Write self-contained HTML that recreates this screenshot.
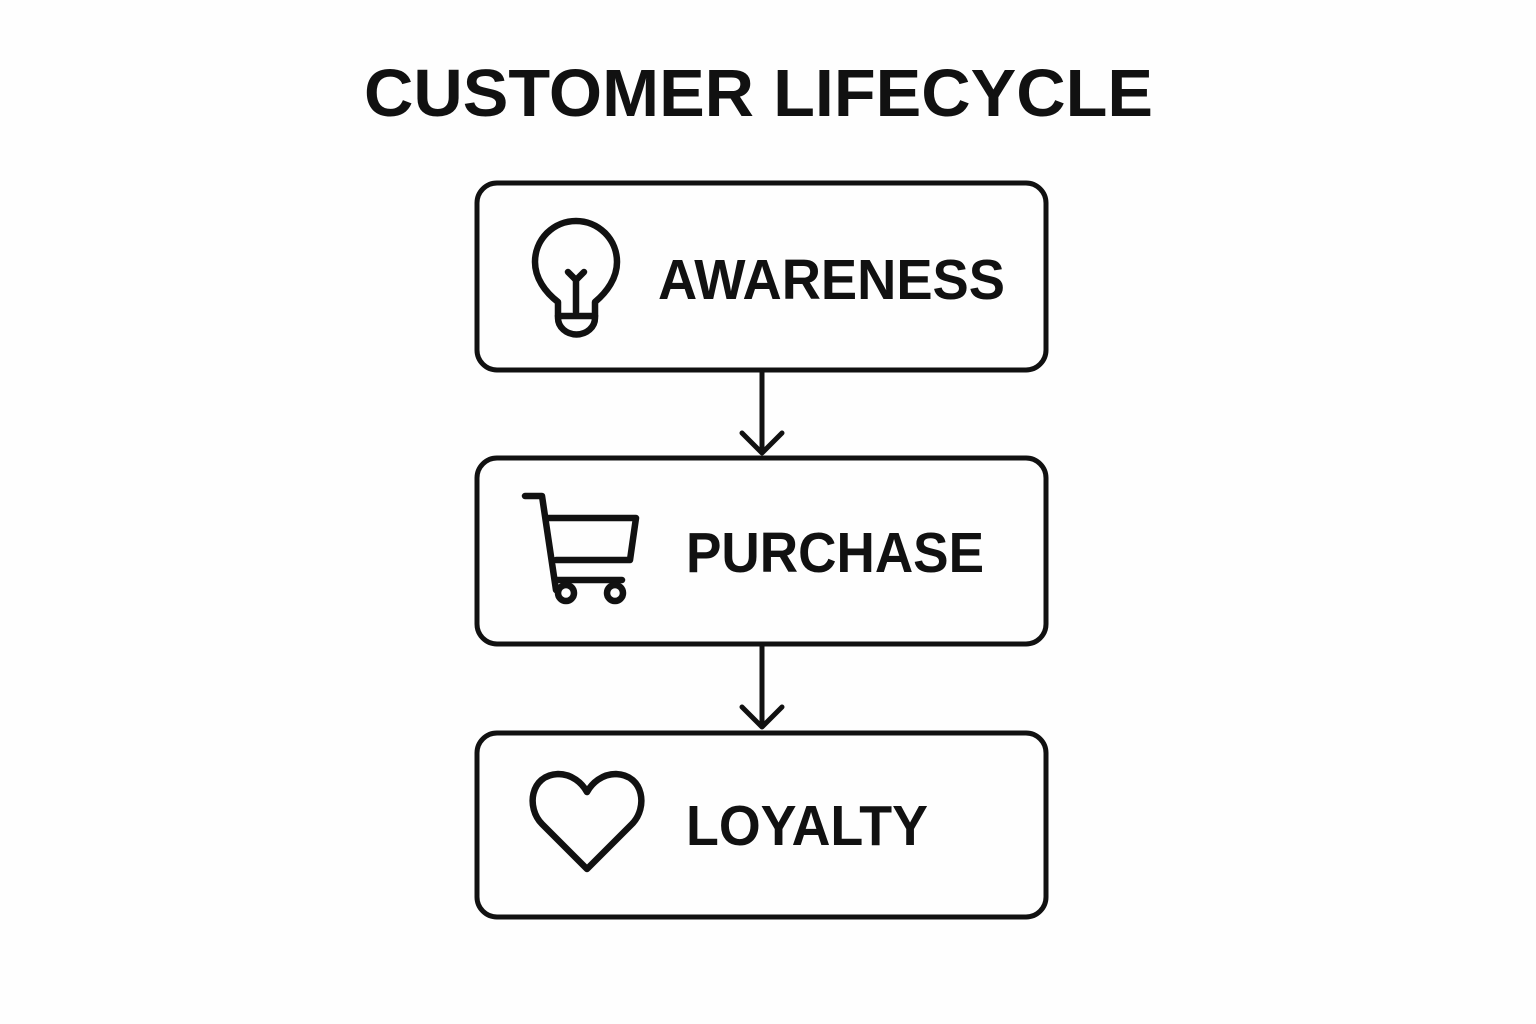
<!DOCTYPE html>
<html><head><style>html,body{margin:0;padding:0;background:#fefefe;}svg{display:block}</style></head>
<body>
<svg width="1536" height="1024" viewBox="0 0 1536 1024" xmlns="http://www.w3.org/2000/svg">
<rect width="1536" height="1024" fill="#fefefe"/>
<g font-family="Liberation Sans, sans-serif" font-weight="bold" fill="#111">
<text x="364" y="116" font-size="67" textLength="789" lengthAdjust="spacingAndGlyphs">CUSTOMER LIFECYCLE</text>
<text x="658" y="299" font-size="57" textLength="347" lengthAdjust="spacingAndGlyphs">AWARENESS</text>
<text x="686" y="572" font-size="57" textLength="298" lengthAdjust="spacingAndGlyphs">PURCHASE</text>
<text x="686" y="845" font-size="57" textLength="242" lengthAdjust="spacingAndGlyphs">LOYALTY</text>
</g>
<g fill="none" stroke="#111" stroke-width="5" stroke-linecap="round" stroke-linejoin="round">
<rect x="477" y="183" width="569" height="187" rx="20"/>
<rect x="477" y="458" width="569" height="186" rx="20"/>
<rect x="477" y="733" width="569" height="184" rx="20"/>
<line x1="762" y1="372" x2="762" y2="452"/>
<polyline points="742,433 762,453 782,433"/>
<line x1="762" y1="646" x2="762" y2="726"/>
<polyline points="742,707 762,727 782,707"/>
</g>
<g fill="none" stroke="#111" stroke-width="6.5" stroke-linecap="round" stroke-linejoin="round">
<path d="M558,302 C545,292 535,278 535,262 A41,41 0 1 1 617,262 C617,278 607,292 595,302 L595,318 A18,16 0 0 1 558,318 Z"/>
<line x1="558" y1="316" x2="595" y2="316"/>
<line x1="576" y1="280" x2="576" y2="312"/>
<polyline points="568,272 576,280 584,272"/>
<polyline points="525,496 542,496 556,590"/>
<polyline points="547,518 636,518 630,560 556,560"/>
<line x1="556" y1="580" x2="622" y2="580"/>
<circle cx="566" cy="593" r="8"/>
<circle cx="615" cy="593" r="8"/>
<path d="M587,869 L542,824 C526,808 530,775 558,774 C572,774 582,783 587,792 C592,783 602,774 616,774 C644,775 648,808 632,824 Z"/>
</g>
</svg>
</body></html>
